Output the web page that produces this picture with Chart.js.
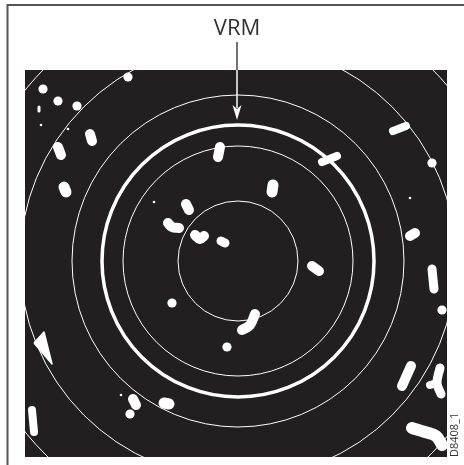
<!DOCTYPE html>
<html>
<head>
<meta charset="utf-8">
<script src="https://cdn.jsdelivr.net/npm/chart.js@4/dist/chart.umd.min.js"></script>
<style>
  html, body { margin: 0; padding: 0; background: #fff; }
  #wrap { width: 464px; height: 465px; position: relative; }
</style>
</head>
<body>
<div id="wrap"><canvas id="radar"></canvas></div>
<script>
// radar picture, units are range units relative to own ship (centre = 0,0)
const ringRadii = [60, 115, 166, 218, 273];
const vrmRadius = 136;
const vrmLabel = 'VRM';
const figureId = 'D8408_1';

// point echoes
const dotX = [-110, -195, -180, -161, 194, -66, -11, -108, 204];
const dotY = [184, 172, 160, 155, 98, -42, -86, -153, -49];
// tiny specks
const speckX = [-197, -170, -117, -84, 172];
const speckY = [136, 132, -134, 59, 63];

// streak echoes, each a short trail of points
const streaks = [
    [[-199, 154], [-199, 150]],
    [[-148, 127], [-146, 120]],
    [[-180, 114], [-177, 106]],
    [[-18, 114], [-20, 104]],
    [[155, 130], [168, 135]],
    [[84, 99], [99, 105]],
    [[-174, 74], [-172, 69]],
    [[-52, 57], [-49, 51]],
    [[-70, 38], [-66, 34], [-59, 33]],
    [[-43, 26], [-38, 22], [-34, 25]],
    [[-17, 20], [-13, 18]],
    [[35, 76], [34, 69]],
    [[172, 25], [177, 28]],
    [[74, -5], [81, -10]],
    [[194, -8], [196, -28]],
    [[17, -53], [12, -64], [4, -69]],
    [[-105, -138], [-102, -144]],
    [[-74, -142], [-69, -143]],
    [[-206, -149], [-205, -160], [-204, -171]],
    [[173, -105], [164, -125]],
    [[202, -107], [199, -122], [203, -133]],
    [[192, -124], [199, -122]],
    [[174, -167], [187, -171], [198, -175], [204, -184]]
];
const streakWidth = [3, 10, 10, 10, 8, 8, 11, 10, 10, 10, 9, 11, 10, 10, 9, 10, 10, 11, 8, 10, 9, 8, 12];

// land wedge
const wedge = [[-204, -82], [-194, -71], [-186, -103], [-204, -82]];

const ECHO = '#ffffff';
const SCREEN = '#231f20';

const datasets = [];
datasets.push({
    data: dotX.map((x, i) => ({ x: x, y: dotY[i] })),
    pointRadius: 4.6,
    pointBackgroundColor: ECHO,
    pointBorderWidth: 0,
    showLine: false,
    clip: 0
});
datasets.push({
    data: speckX.map((x, i) => ({ x: x, y: speckY[i] })),
    pointRadius: 1.3,
    pointBackgroundColor: ECHO,
    pointBorderWidth: 0,
    showLine: false,
    clip: 0
});
streaks.forEach((s, i) => {
    datasets.push({
        data: s.map(p => ({ x: p[0], y: p[1] })),
        showLine: true,
        borderColor: ECHO,
        borderWidth: streakWidth[i],
        borderCapStyle: 'round',
        borderJoinStyle: 'round',
        tension: 0.4,
        pointRadius: 0,
        clip: 0
    });
});
datasets.push({
    data: wedge.map(p => ({ x: p[0], y: p[1] })),
    showLine: true,
    borderColor: ECHO,
    backgroundColor: ECHO,
    borderWidth: 1.5,
    borderJoinStyle: 'round',
    fill: 'shape',
    pointRadius: 0,
    clip: 0
});

// screen background + range rings
const ringsPlugin = {
    id: 'rings',
    beforeDatasetsDraw(chart) {
        const { ctx, chartArea: a, scales } = chart;
        const cx = scales.x.getPixelForValue(0);
        const cy = scales.y.getPixelForValue(0);
        const px = r => scales.x.getPixelForValue(r) - cx;
        ctx.save();
        ctx.fillStyle = SCREEN;
        ctx.fillRect(a.left, a.top, a.right - a.left, a.bottom - a.top);
        ctx.beginPath();
        ctx.rect(a.left, a.top, a.right - a.left, a.bottom - a.top);
        ctx.clip();
        ctx.strokeStyle = '#ffffff';
        ctx.lineWidth = 1;
        ringRadii.forEach(r => {
            ctx.beginPath();
            ctx.arc(cx, cy, px(r), 0, Math.PI * 2);
            ctx.stroke();
        });
        ctx.lineWidth = 3.5;
        ctx.beginPath();
        ctx.arc(cx, cy, px(vrmRadius), 0, Math.PI * 2);
        ctx.stroke();
        ctx.restore();
    },
    afterDraw(chart) {
        const { ctx, chartArea: a, scales } = chart;
        const cx = scales.x.getPixelForValue(0) - 1;
        const tipY = scales.y.getPixelForValue(vrmRadius) - 5;
        ctx.save();
        // frame
        ctx.strokeStyle = '#555';
        ctx.lineWidth = 2;
        ctx.beginPath();
        ctx.moveTo(7.5, 465);
        ctx.lineTo(7.5, 5);
        ctx.lineTo(464, 5);
        ctx.stroke();
        // label
        ctx.fillStyle = '#333';
        ctx.font = '22px "Open Sans", sans-serif';
        ctx.textAlign = 'center';
        ctx.textBaseline = 'alphabetic';
        ctx.fillText(vrmLabel, cx, 35);
        // arrow
        ctx.lineWidth = 1.5;
        ctx.strokeStyle = '#444';
        ctx.beginPath();
        ctx.moveTo(cx, 42);
        ctx.lineTo(cx, a.top);
        ctx.stroke();
        ctx.strokeStyle = '#fff';
        ctx.beginPath();
        ctx.moveTo(cx, a.top);
        ctx.lineTo(cx, tipY - 12);
        ctx.stroke();
        ctx.fillStyle = '#fff';
        ctx.beginPath();
        ctx.moveTo(cx - 4.5, tipY - 15);
        ctx.lineTo(cx, tipY - 11);
        ctx.lineTo(cx + 4.5, tipY - 15);
        ctx.lineTo(cx, tipY);
        ctx.closePath();
        ctx.fill();
        // figure id
        ctx.fillStyle = '#333';
        ctx.font = '11px "Open Sans", sans-serif';
        ctx.translate(458, a.bottom);
        ctx.rotate(-Math.PI / 2);
        ctx.textAlign = 'left';
        ctx.textBaseline = 'alphabetic';
        ctx.fillText(figureId, 0, 0);
        ctx.restore();
    }
};

new Chart(document.getElementById('radar').getContext('2d'), {
    type: 'scatter',
    data: { datasets: datasets },
    options: {
        responsive: true,
        maintainAspectRatio: false,
        animation: false,
        layout: { padding: { left: 25, top: 70, right: 17, bottom: 8 } },
        plugins: {
            legend: { display: false },
            tooltip: { enabled: false }
        },
        scales: {
            x: { type: 'linear', min: -213, max: 209, display: false },
            y: { type: 'linear', min: -196, max: 191, display: false }
        }
    },
    plugins: [ringsPlugin]
});
</script>
</body>
</html>
